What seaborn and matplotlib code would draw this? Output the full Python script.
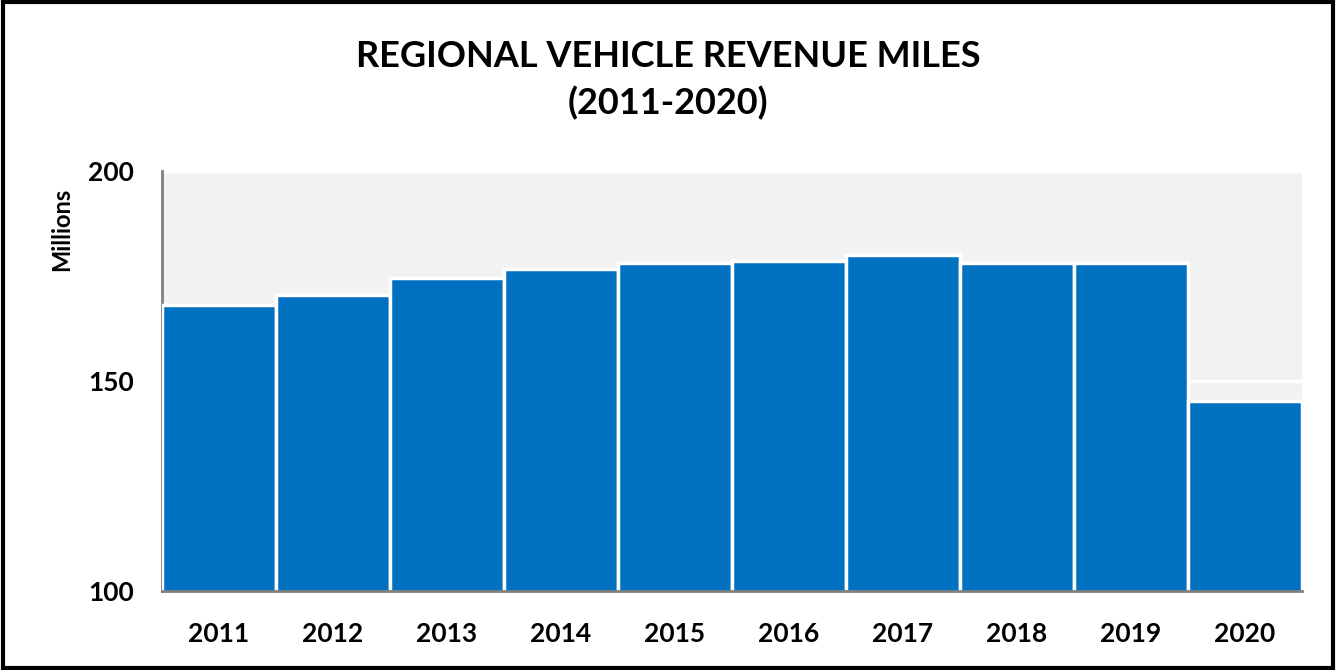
import matplotlib
matplotlib.use("Agg")
import matplotlib.pyplot as plt
import seaborn as sns
import pandas as pd
from matplotlib.patches import Rectangle

years = ["2011", "2012", "2013", "2014", "2015", "2016", "2017", "2018", "2019", "2020"]
miles = [168.1, 170.5, 174.5, 176.7, 178.1, 178.6, 180.0, 178.1, 178.1, 145.2]
yticks = [100, 150, 200]

sns.set_theme(style="white")
plt.rcParams['font.family'] = ['Lato', 'DejaVu Sans']
plt.rcParams['text.color'] = 'black'

df = pd.DataFrame({"year": years, "miles": miles})

fig = plt.figure(figsize=(13.36, 6.70), dpi=100)
ax = fig.add_axes([162/1336, 1 - 591/670, (1302-162)/1336, (591-171)/670])
ax.set_facecolor("#f2f2f2")

sns.barplot(data=df, x="year", y="miles", color="#0070c0", saturation=1,
            width=1.0, edgecolor="white", linewidth=2.5, ax=ax, zorder=3)
ax.set_ylim(100, 200)
ax.set_xlim(-0.5, 9.5)
ax.set_yticks(yticks)
ax.yaxis.grid(True, color="white", linewidth=2.5, zorder=1)
ax.set_axisbelow(True)
ax.set_xlabel("")
ax.set_ylabel("Millions", fontsize=17, fontweight="bold", color="black")
ax.yaxis.set_label_coords(-0.078, 0.862)
ax.tick_params(axis="x", labelsize=19, pad=22, length=0, labelcolor="black")
ax.tick_params(axis="y", labelsize=19, pad=20, length=0, labelcolor="black")
for lab in ax.get_xticklabels() + ax.get_yticklabels():
    lab.set_fontweight("bold")
for s in ["top", "right"]:
    ax.spines[s].set_visible(False)
for s in ["left", "bottom"]:
    ax.spines[s].set_color("#808080")
    ax.spines[s].set_linewidth(2)
ax.spines["bottom"].set_zorder(5)

fig.text(0.5, 1 - 80/670, "REGIONAL VEHICLE REVENUE MILES\n(2011-2020)",
         ha="center", va="center", fontsize=26, fontweight="bold",
         linespacing=1.45, color="black")

fig.patches.append(Rectangle((0.002, 0.003), 0.996, 0.994, transform=fig.transFigure,
                             fill=False, edgecolor="black", linewidth=3))

fig.savefig("out.png", dpi=100, facecolor="white")
